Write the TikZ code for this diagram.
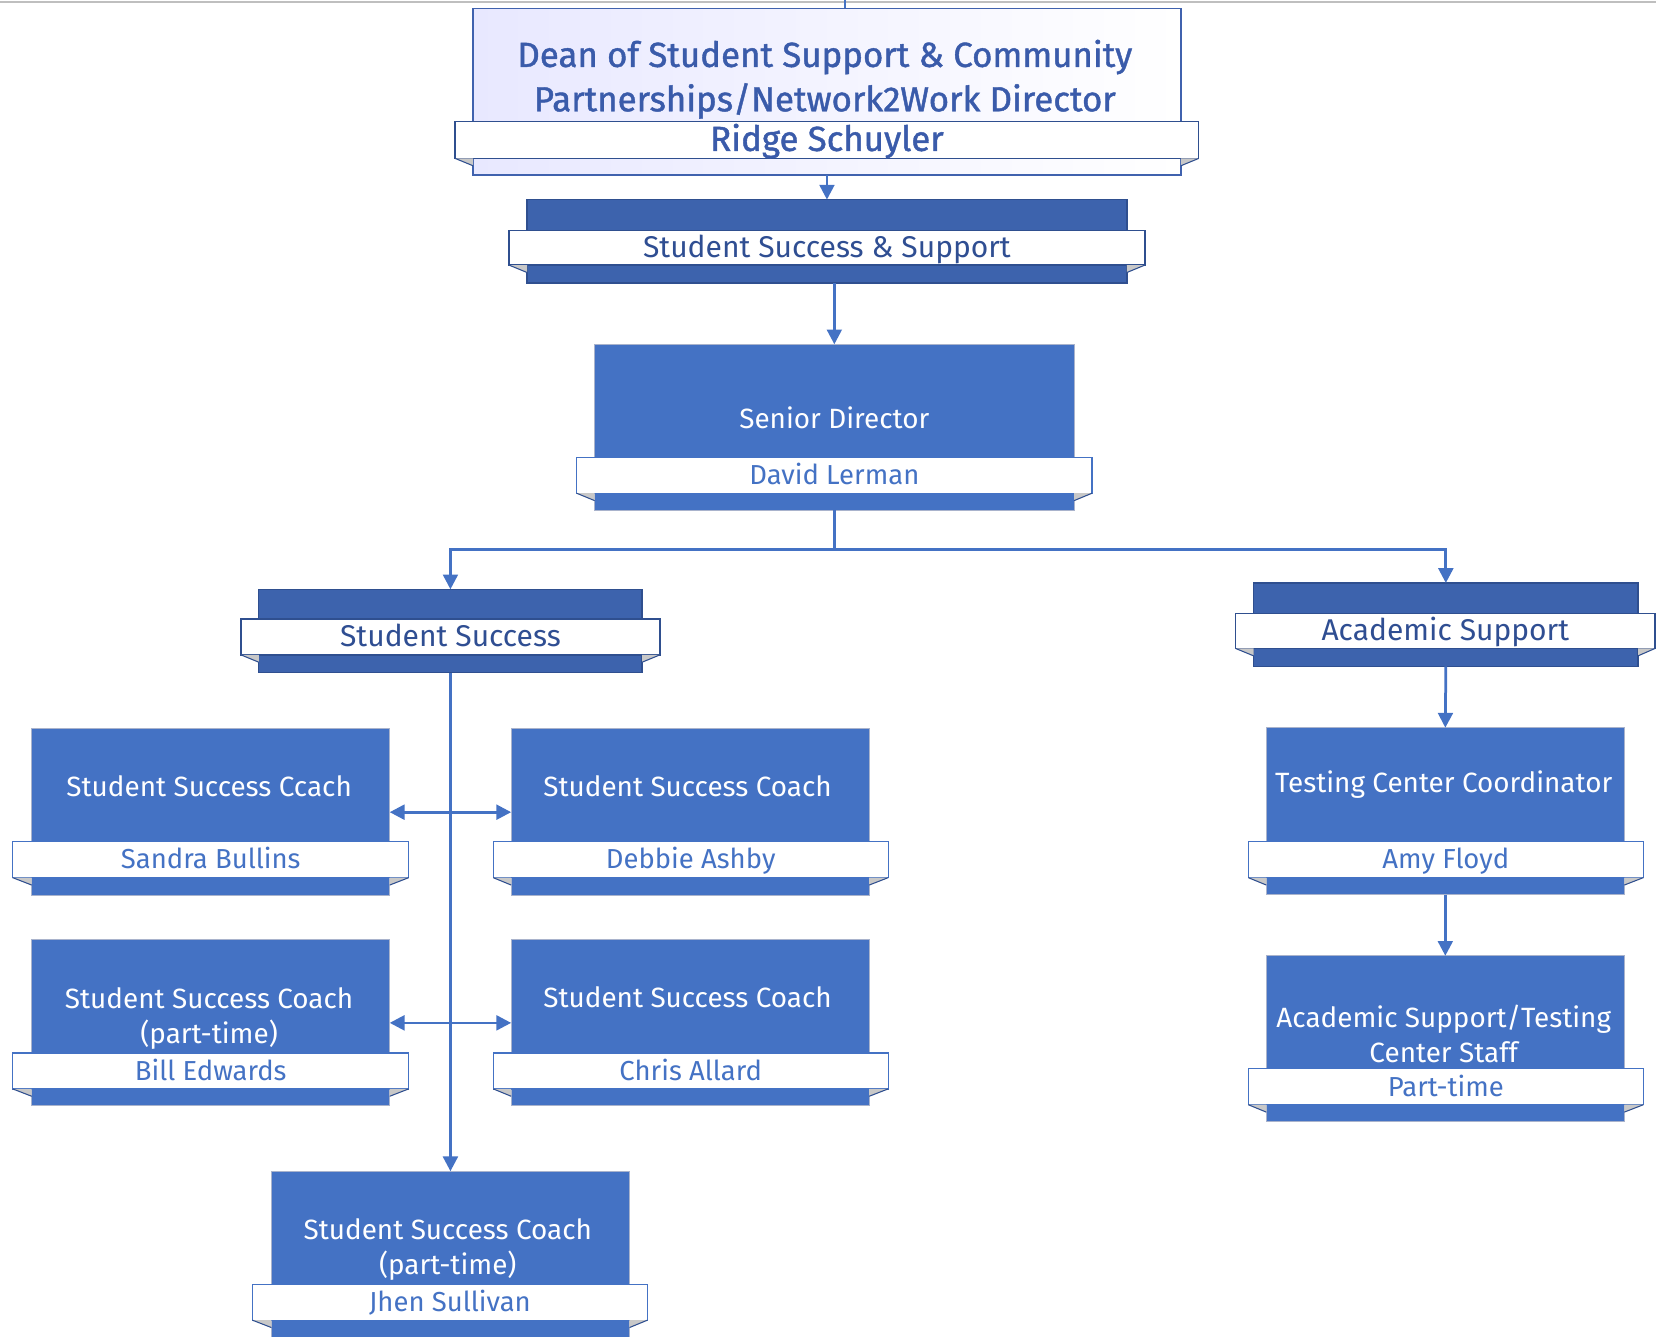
\documentclass[tikz,border=0pt]{standalone}
\usepackage{fontspec}
\setmainfont{Fira Sans}
\newfontfamily\deanfont{Fira Sans}[FakeBold=1.2]
\usetikzlibrary{fit,arrows.meta}
\definecolor{boxblue}{HTML}{4472C4}
\definecolor{grpblue}{HTML}{3D63AD}
\definecolor{grpedge}{HTML}{2F4F8F}
\definecolor{darktext}{HTML}{2F4E92}
\definecolor{deantext}{HTML}{3A5BAA}
\definecolor{deanedge}{HTML}{4062AE}
\definecolor{foldgray}{HTML}{C8C8C8}
\definecolor{pboxedge}{HTML}{A9B3CC}
\newcommand\folds[2]{%
  \fill[foldgray] (#2.south west) -- (#1.west |- #2.south) -- ([yshift=-3.5pt]#1.west |- #2.south) -- cycle;
  \draw[foldline] (#2.south west) -- ([yshift=-3.5pt]#1.west |- #2.south);
  \fill[foldgray] (#2.south east) -- (#1.east |- #2.south) -- ([yshift=-3.5pt]#1.east |- #2.south) -- cycle;
  \draw[foldline] (#2.south east) -- ([yshift=-3.5pt]#1.east |- #2.south);
}
\begin{document}
\begin{tikzpicture}[x=0.5pt,y=-0.5pt,
  every node/.style={inner sep=0pt, outer sep=0pt},
  pbox/.style={fill=boxblue, draw=pboxedge, line width=0.5pt},
  gbox/.style={fill=grpblue, draw=grpedge, line width=0.6pt},
  deanbox/.style={draw=deanedge, line width=0.8pt, left color=blue!9!white, right color=white},
  banner/.style={fill=white, draw=boxblue, line width=0.6pt},
  gbanner/.style={fill=white, draw=grpedge, line width=0.7pt},
  foldline/.style={draw=grpedge, line width=0.5pt},
  ptitle/.style={text=white, font=\fontsize{13.2}{16.5}\selectfont, align=center},
  pname/.style={text=boxblue, font=\fontsize{13}{16}\selectfont, text height=9.5pt, text depth=2.5pt, yshift=-0.9pt},
  gname/.style={text=darktext, font=\fontsize{14.2}{17}\selectfont, text height=10.2pt, text depth=2.8pt, yshift=-0.9pt},
  dname/.style={text=deantext, font=\deanfont\fontsize{16.5}{21}\selectfont, text height=11.8pt, text depth=3.2pt, yshift=-0.9pt},
  conn/.style={draw=boxblue, line width=1.3pt},
  tip/.style={-{Triangle[length=7pt,width=7pt]}},
  dtip/.style={{Triangle[length=7pt,width=7pt]}-{Triangle[length=7pt,width=7pt]}}
]
\useasboundingbox (0,0) rectangle (1568,1265);
\begin{scope}
\clip (0,0) rectangle (1568,1265);
% top rule and incoming line
\draw[gray!50, line width=1pt] (0,2) -- (1568,2);
\coordinate (topin) at (800,0);

% Dean box
\node[deanbox, fit={(448,8)(1118,166)}] (dean) {};
\draw[conn, line width=1pt] (topin) -- (topin |- dean.north);
\node[text=deantext, font=\deanfont\fontsize{16.5}{21}\selectfont, align=center] (deanT) at (781,75) {Dean of Student Support \& Community\\Partnerships/Network2Work Director};
\node[gbanner, fit={(431,115)(1135,150)}] (deanB) {};
\node[dname] (deanN) at (deanB.center) {Ridge Schuyler};
\folds{dean}{deanB}

% Student Success & Support
\node[gbox, fit={(499,189)(1067,268)}] (sss) {};
\node[gbanner, fit={(482,218)(1084,251)}] (sssB) {};
\node[gname] (sssN) at (sssB.center) {Student Success \& Support};
\folds{sss}{sssB}

% Senior Director
\node[pbox, fit={(563,326)(1017,483)}] (sen) {};
\node[ptitle] (senT) at (790,396) {Senior Director};
\node[banner, fit={(546,433)(1034,467)}] (senB) {};
\node[pname] (senN) at (senB.center) {David Lerman};
\folds{sen}{senB}

% Student Success group
\node[gbox, fit={(245,558)(608,637)}] (ss) {};
\node[gbanner, fit={(228,586)(625,620)}] (ssB) {};
\node[gname] (ssN) at (ssB.center) {Student Success};
\folds{ss}{ssB}

% Academic Support group
\node[gbox, fit={(1187,552)(1551,631)}] (as) {};
\node[gbanner, fit={(1170,581)(1567,614)}] (asB) {};
\node[gname] (asN) at (asB.center) {Academic Support};
\folds{as}{asB}

% Coaches
\node[pbox, fit={(30,690)(369,848)}] (c1) {};
\node[ptitle] (c1T) at (198,744) {Student Success Ccach};
\node[banner, fit={(12,797)(387,831)}] (c1B) {};
\node[pname] (c1N) at (c1B.center) {Sandra Bullins};
\folds{c1}{c1B}

\node[pbox, fit={(484,690)(823,848)}] (c2) {};
\node[ptitle] (c2T) at (651,744) {Student Success Coach};
\node[banner, fit={(467,797)(841,831)}] (c2B) {};
\node[pname] (c2N) at (c2B.center) {Debbie Ashby};
\folds{c2}{c2B}

\node[pbox, fit={(30,890)(369,1047)}] (c3) {};
\node[ptitle] (c3T) at (198,964) {Student Success Coach\\(part-time)};
\node[banner, fit={(12,997)(387,1031)}] (c3B) {};
\node[pname] (c3N) at (c3B.center) {Bill Edwards};
\folds{c3}{c3B}

\node[pbox, fit={(484,890)(823,1047)}] (c4) {};
\node[ptitle] (c4T) at (651,944) {Student Success Coach};
\node[banner, fit={(467,997)(841,1031)}] (c4B) {};
\node[pname] (c4N) at (c4B.center) {Chris Allard};
\folds{c4}{c4B}

\node[pbox, fit={(257,1109)(596,1290)}] (c5) {};
\node[ptitle] (c5T) at (424,1183) {Student Success Coach\\(part-time)};
\node[banner, fit={(239,1216)(613,1250)}] (c5B) {};
\node[pname] (c5N) at (c5B.center) {Jhen Sullivan};
\folds{c5}{c5B}

% Academic support side
\node[pbox, fit={(1199,689)(1538,847)}] (tcc) {};
\node[ptitle] (tccT) at (1367,743) {Testing Center Coordinator};
\node[banner, fit={(1182,797)(1556,831)}] (tccB) {};
\node[pname] (tccN) at (tccB.center) {Amy Floyd};
\folds{tcc}{tccB}

\node[pbox, fit={(1199,905)(1538,1062)}] (asts) {};
\node[ptitle] (astsT) at (1367,979) {Academic Support/Testing\\Center Staff};
\node[banner, fit={(1182,1012)(1556,1046)}] (astsB) {};
\node[pname] (astsN) at (astsB.center) {Part-time};
\folds{asts}{astsB}

% Connectors
\draw[conn, tip] (dean.south) -- (sss.north);
\draw[conn, tip] (sss.south -| sen.north) -- (sen.north);
\coordinate (split) at (790,520);
\draw[conn, tip] (sen.south) -- (split) -| (ss.north);
\draw[conn, tip] (split) -| (as.north);
\draw[conn, tip] (ss.south) -- (c5.north);
\draw[conn, dtip] (c1.east) -- (c2.west);
\draw[conn, dtip] (c3.east) -- (c4.west);
\draw[conn, tip] (as.south) -- (tcc.north);
\draw[conn, tip] (tcc.south) -- (asts.north);
\end{scope}
\end{tikzpicture}
\end{document}
